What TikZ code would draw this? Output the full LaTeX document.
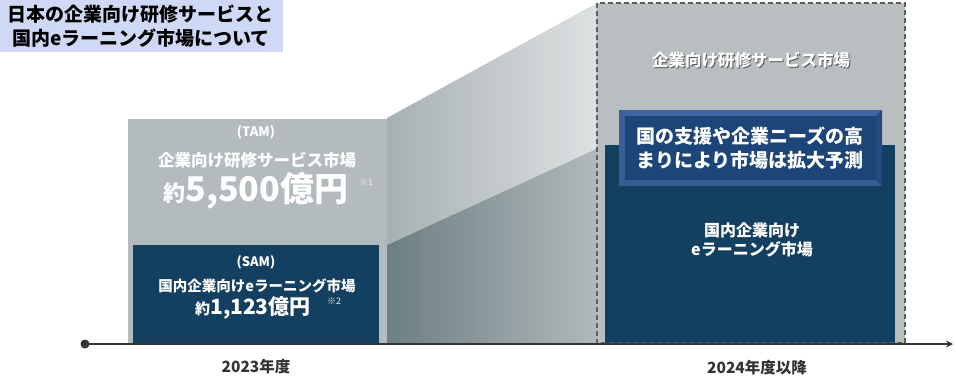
\documentclass[tikz,border=0pt]{standalone}
\usepackage{fontspec}
\setmainfont{Noto Sans CJK JP}
\usetikzlibrary{arrows.meta,shadings}
\definecolor{titlebg}{HTML}{CFD9F6}
\definecolor{tamgray}{HTML}{B4BBBE}
\definecolor{rgray}{HTML}{B9BEC0}
\definecolor{navy}{HTML}{133F60}
\definecolor{btnmid}{HTML}{1D4577}
\definecolor{btnlight}{HTML}{3F66A0}
\definecolor{btndark}{HTML}{10305A}
\definecolor{axiscol}{HTML}{333638}
\definecolor{labcol}{HTML}{333333}
\definecolor{upL}{HTML}{A7B0B2}
\definecolor{upR}{HTML}{E0E3E4}
\definecolor{loL}{HTML}{6D7F84}
\definecolor{loR}{HTML}{B3BBBD}
\tikzset{
  wtxt/.style={text=white,font=\bfseries,inner sep=0pt,align=center},
  ylab/.style={text=labcol,font=\bfseries\fontsize{15.5}{18}\selectfont,inner sep=0pt},
  note/.style={inner sep=0pt,font=\fontsize{9}{11}\selectfont,text=white!85!gray},
}
\begin{document}
\begin{tikzpicture}[x=1pt,y=-1pt]
\useasboundingbox (0,0) rectangle (956,381);
% title
\fill[titlebg] (0,0) rectangle (283,52);
\node[inner sep=0pt,align=center,font=\bfseries\fontsize{19}{24}\selectfont,text=black] (title) at (141,26) {日本の企業向け研修サービスと\\国内eラーニング市場について};
% connectors (trapezoids)
\shade[left color=upL,right color=upR] (387,118) -- (597,3) -- (605,145) -- (387,245) -- cycle;
\shade[left color=loL,right color=loR] (387,245) -- (605,145) -- (605,343) -- (387,343) -- cycle;
% TAM box
\fill[tamgray] (128,119) rectangle (387,343);
\fill[navy] (133,245) rectangle (379,343);
\node[wtxt,font=\bfseries\fontsize{13}{15}\selectfont] (tam) at (256,132) {(TAM)};
\node[wtxt,font=\bfseries\fontsize{16.5}{20}\selectfont] (tamname) at (257,160) {企業向け研修サービス市場};
\node[wtxt,anchor=base] (tamval) at (256,201) {{\fontsize{22}{26}\selectfont 約}{\fontsize{34}{40}\selectfont 5,500億円}};
\node[note] (n1) at (366,182) {※1};
\node[wtxt,font=\bfseries\fontsize{13}{15}\selectfont] (sam) at (256,262) {(SAM)};
\node[wtxt,font=\bfseries\fontsize{14.5}{18}\selectfont] (samname) at (257,286) {国内企業向けeラーニング市場};
\node[wtxt,anchor=base] (samval) at (253,314) {{\fontsize{15}{18}\selectfont 約}{\fontsize{21}{25}\selectfont 1,123億円}};
\node[note] (n2) at (334,301) {※2};
% right box
\fill[rgray] (597,3) rectangle (905,343);
\fill[navy] (605,145) rectangle (895,343);
\draw[axiscol!80,line width=1.1pt,dash pattern=on 5pt off 3pt] (597,3) rectangle (905,343);
\node[text=gray!70!black,font=\bfseries\fontsize{16.5}{20}\selectfont,inner sep=0pt] (rshadow) at (752,61) {企業向け研修サービス市場};
\node[wtxt,font=\bfseries\fontsize{16.5}{20}\selectfont] (rname) at (751,60) {企業向け研修サービス市場};
% callout bevel button
\fill[btndark] (619,110) rectangle (882,186);
\fill[btnlight] (619,110) -- (882,110) -- (876,116) -- (625,116) -- cycle;
\fill[btnlight!80!btnmid] (619,110) -- (625,116) -- (625,180) -- (619,186) -- cycle;
\fill[btnmid!80!btnlight] (882,110) -- (876,116) -- (876,180) -- (882,186) -- cycle;
\fill[btnlight!70!btnmid] (619,186) -- (625,180) -- (876,180) -- (882,186) -- cycle;
\fill[btnmid] (625,116) rectangle (876,180);
\node[wtxt,font=\bfseries\fontsize{19}{23.5}\selectfont] (callout) at (750,148) {国の支援や企業ニーズの高\\まりにより市場は拡大予測};
\node[wtxt,font=\bfseries\fontsize{16}{19.5}\selectfont] (rsam) at (752,240) {国内企業向け\\eラーニング市場};
% axis
\coordinate (ax0) at (85,344);
\coordinate (ax1) at (953,344);
\draw[axiscol,line width=2pt,-{Stealth[length=7pt,width=7pt]}] (ax0) -- (ax1);
\fill[axiscol] (ax0) circle (4.5);
\node[ylab] (y1) at (256,367) {2023年度};
\node[ylab] (y2) at (757,368) {2024年度以降};
\end{tikzpicture}
\end{document}
